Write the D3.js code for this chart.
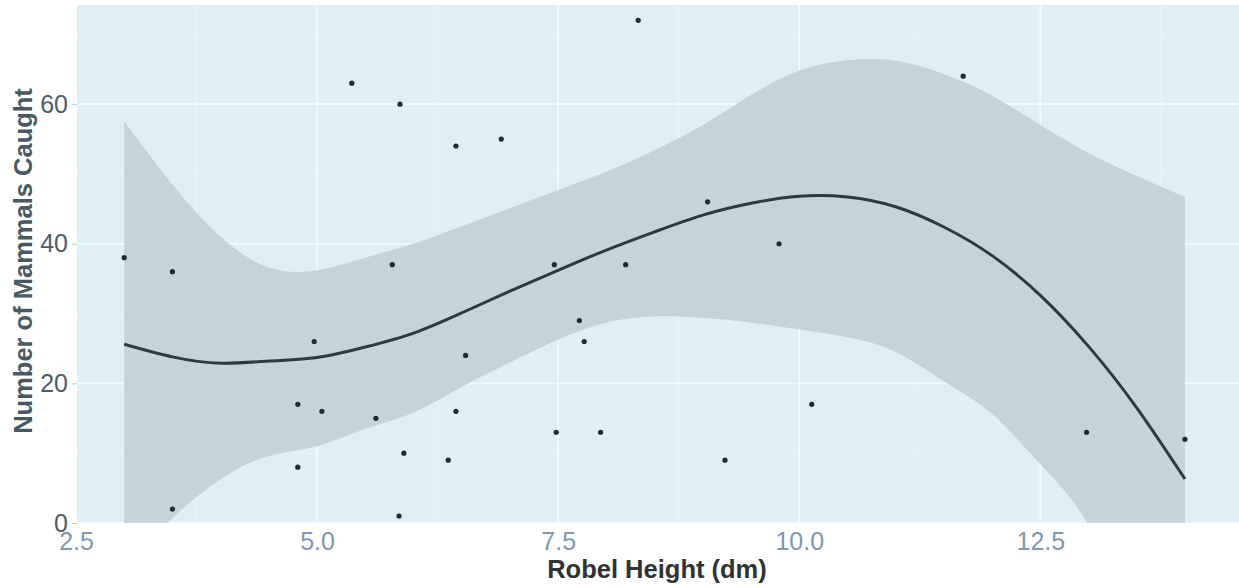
<!DOCTYPE html>
<html lang="en">
<head>
<meta charset="UTF-8">
<script src="https://d3js.org/d3.v7.min.js"></script>
<style>
  body { margin: 0; background: #ffffff; font-family: Arial, "Liberation Sans", sans-serif; }
  .grid-major { stroke: #f4fbfd; stroke-width: 1.6px; }
  .grid-minor { stroke: #eaf6fa; stroke-width: 0.8px; }
  .band { fill: #c5d3da; }
  .fit { fill: none; stroke: #2d3a42; stroke-width: 3px; }
  .pt { fill: #1f2a30; }
  .ytick { font-size: 25px; fill: #4d5d66; }
  .xtick { font-size: 25px; fill: #7f97b2; }
  .title { font-weight: bold; }
</style>
</head>
<body>
<script>
// observed points: robel height (dm) vs mammals caught
var robel = [3.0, 3.5, 3.5, 4.8, 4.8, 4.97, 5.05, 5.36, 5.61, 5.78, 5.85, 5.86, 5.9,
             6.36, 6.44, 6.44, 6.54, 6.91, 7.46, 7.48, 7.72, 7.77, 7.94, 8.2, 8.33,
             9.05, 9.23, 9.79, 10.13, 11.7, 12.98, 14.0];
var mammals = [38, 36, 2, 17, 8, 26, 16, 63, 15, 37, 1, 60, 10,
               9, 54, 16, 24, 55, 37, 13, 29, 26, 13, 37, 72,
               46, 9, 40, 17, 64, 13, 12];

// smoother
var smoothX = [3.0, 3.5, 4.0, 4.5, 5.0, 5.5, 6.0, 6.5, 7.0, 7.5, 8.0, 8.5, 9.0,
               9.5, 10.0, 10.5, 11.0, 11.5, 12.0, 12.5, 13.0, 13.5, 14.0];
var smoothFit = [25.6, 23.8, 22.9, 23.2, 23.7, 25.2, 27.2, 30.1, 33.2, 36.2, 39.1, 41.7, 44.1,
                 45.8, 46.8, 46.7, 45.3, 42.4, 38.3, 32.6, 25.3, 16.5, 6.3];
var smoothUpper = [57.5, 48.5, 41.0, 36.6, 36.2, 38.0, 40.0, 42.5, 45.1, 47.7, 50.3, 53.4, 57.0,
                   61.3, 64.8, 66.3, 66.2, 64.3, 61.2, 57.0, 53.0, 49.7, 46.7];
var smoothLower = [-6.0, 0.7, 6.3, 9.6, 11.0, 13.5, 15.8, 19.5, 23.0, 26.3, 28.7, 29.6, 29.4,
                   28.7, 27.7, 26.6, 24.5, 20.3, 15.6, 8.4, -0.3, -16.0, -34.0];

var xTicks = [2.5, 5.0, 7.5, 10.0, 12.5];
var xMinor = [3.75, 6.25, 8.75, 11.25, 13.75];
var yTicks = [0, 20, 40, 60];
var yMinor = [10, 30, 50, 70];

var W = 1239, H = 588;
var panel = {left: 77, right: 1239, top: 5, bottom: 523};

var x = d3.scaleLinear().domain([2.5, 14.55]).range([76, 1238]);
var y = d3.scaleLinear().domain([0, 74.2]).range([523, 5]);

var svg = d3.select("body").append("svg")
  .attr("width", W)
  .attr("height", H);

svg.append("defs").append("clipPath")
  .attr("id", "clip")
  .append("rect")
  .attr("x", panel.left)
  .attr("y", panel.top)
  .attr("width", panel.right - panel.left)
  .attr("height", panel.bottom - panel.top);

// panel background
svg.append("rect")
  .attr("x", panel.left)
  .attr("y", panel.top)
  .attr("width", panel.right - panel.left)
  .attr("height", panel.bottom - panel.top)
  .attr("fill", "#dfeff5");

var g = svg.append("g").attr("clip-path", "url(#clip)");

// grid lines
g.selectAll(".gx-minor").data(xMinor).enter().append("line")
  .attr("class", "grid-minor")
  .attr("x1", d => x(d)).attr("x2", d => x(d))
  .attr("y1", panel.top).attr("y2", panel.bottom);
g.selectAll(".gy-minor").data(yMinor).enter().append("line")
  .attr("class", "grid-minor")
  .attr("y1", d => y(d)).attr("y2", d => y(d))
  .attr("x1", panel.left).attr("x2", panel.right);
g.selectAll(".gx").data(xTicks).enter().append("line")
  .attr("class", "grid-major")
  .attr("x1", d => x(d)).attr("x2", d => x(d))
  .attr("y1", panel.top).attr("y2", panel.bottom);
g.selectAll(".gy").data(yTicks).enter().append("line")
  .attr("class", "grid-major")
  .attr("y1", d => y(d)).attr("y2", d => y(d))
  .attr("x1", panel.left).attr("x2", panel.right);

// confidence band
var smooth = smoothX.map(function(d, i) {
  return {x: d, fit: smoothFit[i], lo: smoothLower[i], hi: smoothUpper[i]};
});

var area = d3.area()
  .x(d => x(d.x))
  .y0(d => y(d.lo))
  .y1(d => y(d.hi))
  .curve(d3.curveNatural);

g.append("path")
  .datum(smooth)
  .attr("class", "band")
  .attr("d", area);

// points
g.selectAll(".pt").data(robel).enter().append("circle")
  .attr("class", "pt")
  .attr("cx", d => x(d))
  .attr("cy", (d, i) => y(mammals[i]))
  .attr("r", 2.6);

// fitted line
var line = d3.line()
  .x(d => x(d.x))
  .y(d => y(d.fit))
  .curve(d3.curveNatural);

g.append("path")
  .datum(smooth)
  .attr("class", "fit")
  .attr("d", line);

// axes
var yAxis = svg.append("g")
  .attr("transform", "translate(" + panel.left + ",0)")
  .call(d3.axisLeft(y).tickValues(yTicks).tickSize(5).tickPadding(4).tickFormat(d3.format("d")));
yAxis.select(".domain").remove();
yAxis.selectAll(".tick line").attr("stroke", "#b8c4ca");
yAxis.selectAll(".tick text")
  .attr("class", "ytick")
  .attr("font-family", null)
  .attr("font-size", null)
  .attr("fill", d => d === 0 ? "#7f97b2" : "#4d5d66");

var xAxis = svg.append("g")
  .attr("transform", "translate(0," + panel.bottom + ")")
  .call(d3.axisBottom(x).tickValues(xTicks).tickSize(0).tickPadding(9).tickFormat(d3.format(".1f")));
xAxis.select(".domain").remove();
xAxis.selectAll(".tick text")
  .attr("class", "xtick")
  .attr("font-family", null)
  .attr("font-size", null)
  .attr("fill", null);

// axis titles
svg.append("text")
  .attr("class", "title")
  .attr("text-anchor", "middle")
  .attr("x", 657)
  .attr("y", 578)
  .attr("font-size", "25.5px")
  .attr("fill", "#2e3336")
  .text("Robel Height (dm)");

svg.append("text")
  .attr("class", "title")
  .attr("text-anchor", "middle")
  .attr("transform", "translate(32,261)rotate(-90)")
  .attr("font-size", "25.5px")
  .attr("fill", "#4a5961")
  .text("Number of Mammals Caught");
</script>
</body>
</html>
